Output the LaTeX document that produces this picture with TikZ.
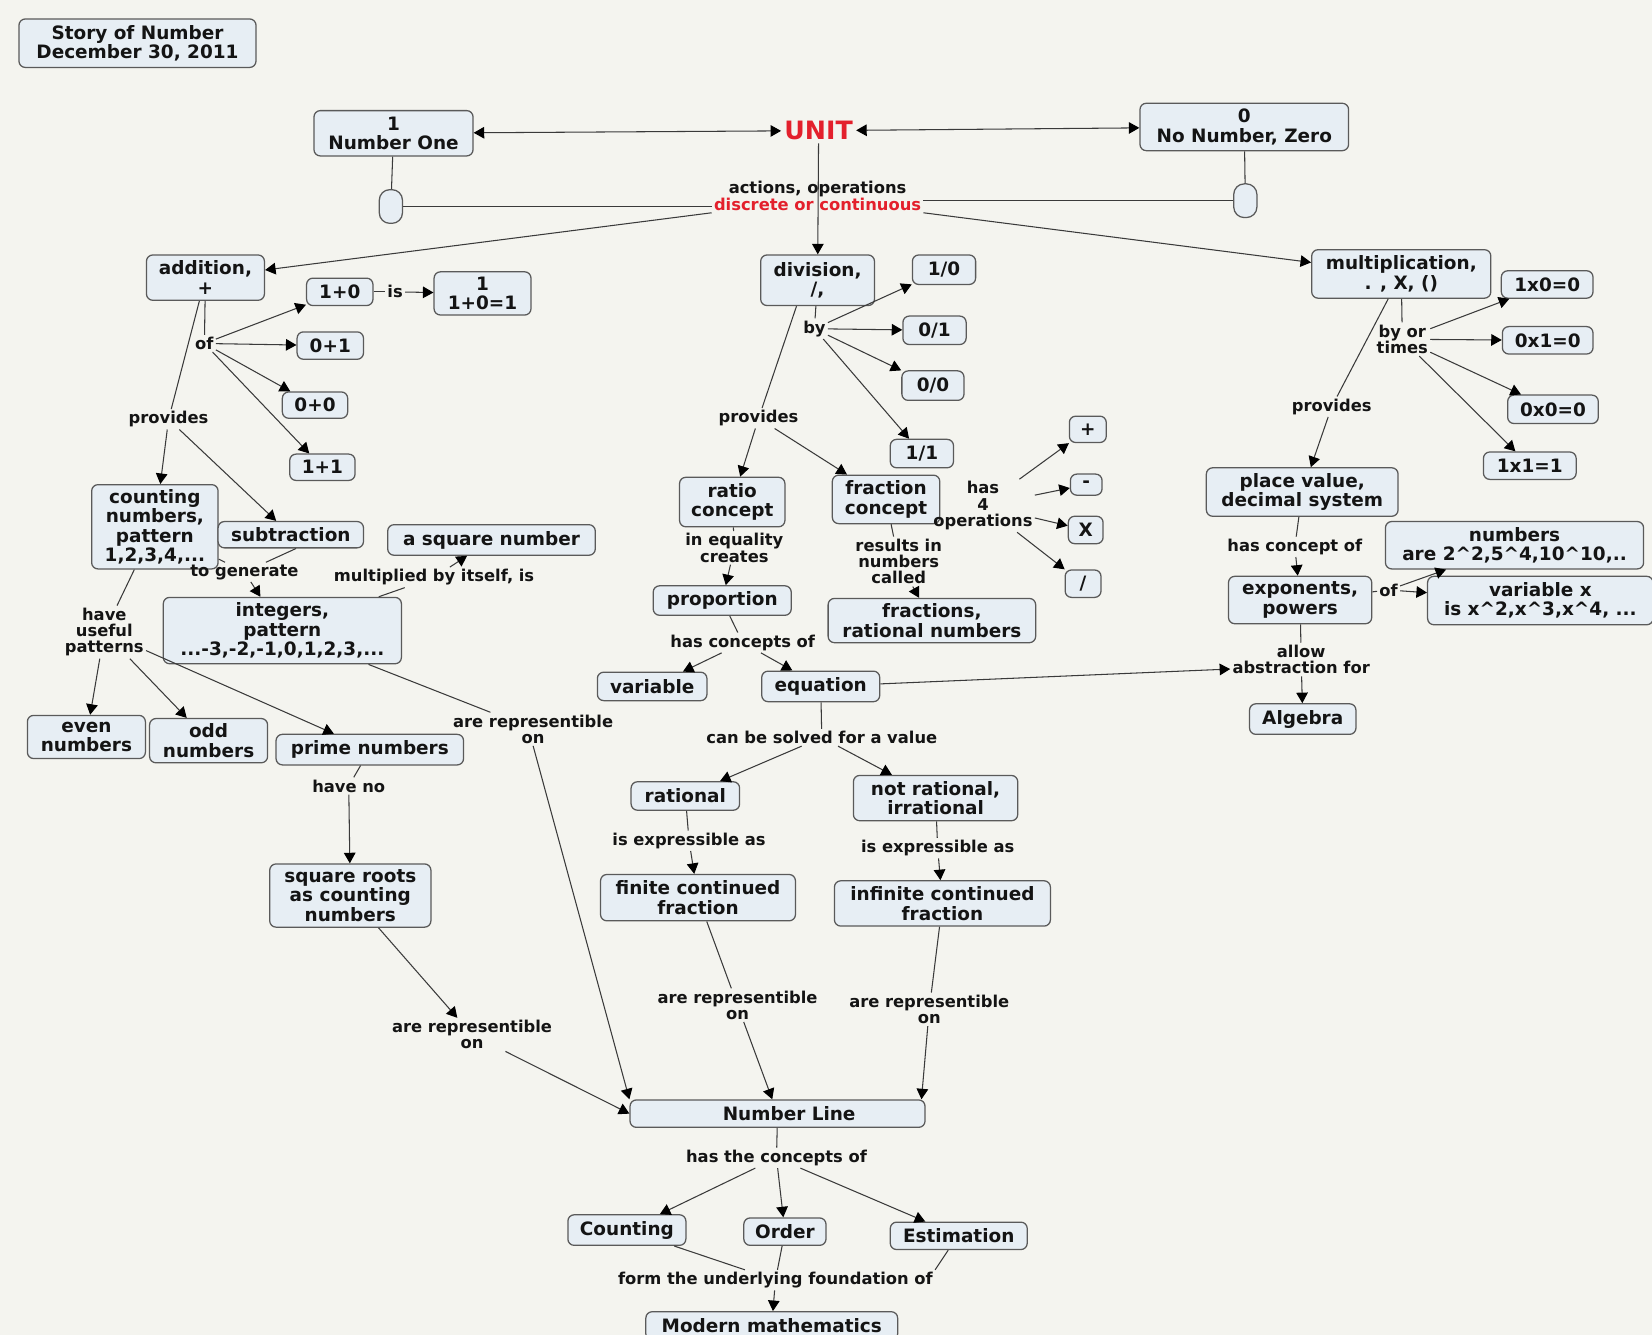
\documentclass[tikz,border=0pt]{standalone}
\usepackage{fontspec}
\setmainfont{DejaVu Sans}
\usetikzlibrary{arrows.meta}
\definecolor{bg}{HTML}{F4F4EF}
\definecolor{boxfill}{HTML}{E7EEF4}
\definecolor{boxline}{HTML}{5A5A5A}
\definecolor{linkc}{HTML}{3A3A3A}
\definecolor{txt}{HTML}{141414}
\definecolor{unitred}{HTML}{E3202C}
\newcommand{\ctext}{\bfseries\fontsize{17.5}{18.5}\selectfont}
\newcommand{\ltext}{\bfseries\fontsize{15.5}{15.5}\selectfont}
\newcommand{\crt}{\textasciicircum}
\tikzset{
  concept/.style={draw=boxline, fill=boxfill, rounded corners=6pt, line width=1.2pt, align=center, inner sep=0pt, font=\ctext, text=txt},
  lbl/.style={align=center, inner sep=2pt, font=\ltext, text=txt},
  link/.style={draw=linkc, line width=1pt},
  tipk/.tip={Triangle[length=10pt,width=11pt,color=black]},
  arr/.style={link, -tipk},
  biarr/.style={link, tipk-tipk},
  pill/.style={draw=boxline, fill=boxfill, rounded corners=10pt, line width=1.2pt, minimum width=22pt, minimum height=32pt, inner sep=0pt},
}
\begin{document}
\begin{tikzpicture}[x=1pt,y=-1pt]
\fill[bg] (0,0) rectangle (1568,1267);
\useasboundingbox (0,0) rectangle (1568,1267);

% ---------- concepts ----------
\node[concept, minimum width=225pt, minimum height=46pt] (title) at (130.5,41) {Story of Number\\December 30, 2011};
\node[concept, minimum width=151pt, minimum height=43pt] (one) at (373.5,126.5) {1\\Number One};
\node[concept, minimum width=198pt, minimum height=45pt] (zero) at (1181,120.5) {0\\No Number, Zero};
\node[font=\bfseries\fontsize{24}{26}\selectfont, text=unitred, inner sep=3pt] (unit) at (777,124) {UNIT};
\node[pill] (pillL) at (371,196) {};
\node[pill] (pillR) at (1182,190.5) {};
\node[lbl] (act) at (776,186) {actions, operations\\{\color{unitred}discrete or continuous}};

\node[concept, minimum width=112pt, minimum height=43pt] (add) at (195,263.5) {addition,\\+};
\node[concept, minimum width=108pt, minimum height=48pt] (div) at (776,266) {division,\\/,};
\node[concept, minimum width=170pt, minimum height=46pt] (mult) at (1330,260) {multiplication,\\. , X, ()};

% addition branch
\node[concept, minimum width=63pt, minimum height=26pt] (p10) at (322.5,277) {1+0};
\node[lbl] (isl) at (375,277) {is};
\node[concept, minimum width=92pt, minimum height=41pt] (r10) at (458,278.5) {1\\1+0=1};
\node[lbl] (of1) at (194,326) {of};
\node[concept, minimum width=63pt, minimum height=26pt] (p01) at (313.5,328) {0+1};
\node[concept, minimum width=62pt, minimum height=25pt] (p00) at (299,384.5) {0+0};
\node[concept, minimum width=62pt, minimum height=25pt] (p11) at (306,443.5) {1+1};
\node[lbl] (prov1) at (160,398) {provides};
\node[concept, minimum width=120pt, minimum height=80pt] (cnt) at (147,500) {counting\\numbers,\\pattern\\1,2,3,4,...};
\node[concept, minimum width=138pt, minimum height=25pt] (sub) at (276,507.5) {subtraction};
\node[lbl] (gen) at (232,543) {to generate};
\node[concept, minimum width=226pt, minimum height=63pt] (int) at (268,598.5) {integers,\\pattern\\...-3,-2,-1,0,1,2,3,...};
\node[lbl] (mbi) at (412,548) {multiplied by itself, is};
\node[concept, minimum width=197pt, minimum height=29pt] (sq) at (466.5,512.5) {a square number};
\node[lbl] (useful) at (99,600) {have\\useful\\patterns};
\node[concept, minimum width=112pt, minimum height=41pt] (even) at (82,699.5) {even\\numbers};
\node[concept, minimum width=112pt, minimum height=42pt] (odd) at (198,703) {odd\\numbers};
\node[concept, minimum width=178pt, minimum height=29pt] (prime) at (351,711.5) {prime numbers};
\node[lbl] (haveno) at (331,746) {have no};
\node[concept, minimum width=153pt, minimum height=60pt] (sqr) at (332.5,850) {square roots\\as counting\\numbers};
\node[lbl] (rep1) at (506,692) {are representible\\on};
\node[lbl] (rep2) at (448,982) {are representible\\on};

% division branch
\node[lbl] (by) at (773,312) {by};
\node[concept, minimum width=60pt, minimum height=28pt] (d10) at (896,256) {1/0};
\node[concept, minimum width=60pt, minimum height=27pt] (d01) at (887,313.5) {0/1};
\node[concept, minimum width=59pt, minimum height=28pt] (d00) at (885.5,366) {0/0};
\node[concept, minimum width=60pt, minimum height=27pt] (d11) at (875,430.5) {1/1};
\node[lbl] (prov2) at (720,397) {provides};
\node[concept, minimum width=100pt, minimum height=47pt] (ratio) at (695,476.5) {ratio\\concept};
\node[concept, minimum width=102pt, minimum height=46pt] (frac) at (841,474) {fraction\\concept};
\node[lbl] (ops) at (933,480) {has\\4\\operations};
\node[concept, minimum width=35pt, minimum height=25pt] (plus) at (1032.5,407.5) {+};
\node[concept, minimum width=30pt, minimum height=20pt] (minus) at (1031,460) {-};
\node[concept, minimum width=33pt, minimum height=26pt] (times) at (1030.5,503) {X};
\node[concept, minimum width=34pt, minimum height=26pt] (slash) at (1028,554) {/};
\node[lbl] (ineq) at (697,520) {in equality\\creates};
\node[concept, minimum width=131pt, minimum height=28pt] (prop) at (685.5,570) {proportion};
\node[lbl] (results) at (853,533) {results in\\numbers\\called};
\node[concept, minimum width=197pt, minimum height=42pt] (fracs) at (884.5,589) {fractions,\\rational numbers};
\node[lbl] (hasc) at (705,610) {has concepts of};
\node[concept, minimum width=104pt, minimum height=27pt] (var) at (619,651.5) {variable};
\node[concept, minimum width=112pt, minimum height=29pt] (eq) at (779,651.5) {equation};
\node[lbl] (solved) at (780,700) {can be solved for a value};
\node[concept, minimum width=103pt, minimum height=27pt] (rat) at (650.5,755.5) {rational};
\node[concept, minimum width=156pt, minimum height=43pt] (irr) at (888,757.5) {not rational,\\irrational};
\node[lbl] (expr1) at (654,798) {is expressible as};
\node[lbl] (expr2) at (890,805) {is expressible as};
\node[concept, minimum width=185pt, minimum height=44pt] (fin) at (662.5,852) {finite continued\\fraction};
\node[concept, minimum width=205pt, minimum height=43pt] (inf) at (894.5,857.5) {infinite continued\\fraction};
\node[lbl] (rep3) at (700,954) {are representible\\on};
\node[lbl] (rep4) at (882,958) {are representible\\on};
\node[concept, minimum width=280pt, minimum height=26pt] (nl) at (738,1057) {\hspace*{22pt}Number Line};
\node[lbl] (hasthe) at (737,1099) {has the concepts of};
\node[concept, minimum width=112pt, minimum height=29pt] (counting) at (595,1167.5) {Counting};
\node[concept, minimum width=78pt, minimum height=26pt] (order) at (745,1169) {Order};
\node[concept, minimum width=130pt, minimum height=26pt] (est) at (910,1173) {Estimation};
\node[lbl] (form) at (736,1215) {form the underlying foundation of};
\node[concept, minimum width=239pt, minimum height=27pt] (modern) at (732.5,1258.5) {Modern mathematics};

% multiplication branch
\node[lbl] (bytimes) at (1331,322) {by or\\times};
\node[concept, minimum width=87pt, minimum height=26pt] (m10) at (1468.5,270) {1x0=0};
\node[concept, minimum width=86pt, minimum height=26pt] (m01) at (1469,323) {0x1=0};
\node[concept, minimum width=86pt, minimum height=27pt] (m00) at (1474,388.5) {0x0=0};
\node[concept, minimum width=88pt, minimum height=26pt] (m11) at (1452,442) {1x1=1};
\node[lbl] (prov3) at (1264,386) {provides};
\node[concept, minimum width=182pt, minimum height=46pt] (pv) at (1236,467) {place value,\\decimal system};
\node[lbl] (hco) at (1229,519) {has concept of};
\node[concept, minimum width=136pt, minimum height=45pt] (exps) at (1234,569.5) {exponents,\\powers};
\node[lbl] (of2) at (1318,560) {of};
\node[concept, minimum width=245pt, minimum height=45pt] (nums) at (1437.5,517.5) {numbers\\are 2\crt2,5\crt4,10\crt10,..};
\node[concept, minimum width=214pt, minimum height=46pt] (varx) at (1462,570) {variable x\\is x\crt2,x\crt3,x\crt4, ...};
\node[lbl] (allow) at (1235,626) {allow\\abstraction for};
\node[concept, minimum width=101pt, minimum height=29pt] (alg) at (1236.5,682.5) {Algebra};

% ---------- connectors ----------
\draw[biarr] (one) -- (unit);
\draw[biarr] (unit) -- (zero);
\draw[link] (one) -- (pillL);
\draw[link] (zero) -- (pillR);
\draw[link] (pillL) -- (act.west |- pillL);
\draw[link] (act.east |- pillR) -- (pillR);
\draw[arr] (unit) -- (div);
\draw[arr] (act.south west) -- (add);
\draw[arr] (act.south east) -- (mult);

\draw[link] (add) -- (of1);
\draw[arr] (of1) -- (p10);
\draw[arr] (of1) -- (p01);
\draw[arr] (of1) -- (p00);
\draw[arr] (of1) -- (p11);
\draw[link] (p10) -- (isl);
\draw[arr] (isl) -- (r10);
\draw[link] (add) -- (prov1);
\draw[arr] (prov1) -- (cnt);
\draw[arr] (prov1) -- (sub);
\draw[link] (cnt) -- (gen);
\draw[link] ([xshift=5pt]sub.south) -- (gen);
\draw[arr] (gen) -- (int);
\draw[link] (int) -- (mbi);
\draw[arr] (mbi) -- (sq);
\draw[link] (cnt) -- (useful);
\draw[arr] (useful) -- (even);
\draw[arr] (useful) -- (odd);
\draw[arr] (useful) -- (prime);
\draw[link] (prime) -- (haveno);
\draw[arr] (haveno) -- (sqr);
\draw[arr] (sqr) -- (rep2);
\draw[arr] (rep2) -- (nl.west);
\draw[link] (int) -- (rep1);
\draw[arr] (rep1.south) -- (nl.north west);

\draw[link] (div) -- (by);
\draw[arr] (by) -- (d10);
\draw[arr] (by) -- (d01);
\draw[arr] (by) -- (d00);
\draw[arr] (by) -- (d11);
\draw[link] ([xshift=-20pt]div.south) -- (prov2);
\draw[arr] (prov2) -- (ratio);
\draw[arr] (prov2) -- (frac);
\draw[arr] (ops) -- (plus);
\draw[arr] (ops) -- (minus);
\draw[arr] (ops) -- (times);
\draw[arr] (ops) -- (slash);
\draw[link] (ratio) -- (ineq);
\draw[arr] (ineq) -- (prop);
\draw[link] (frac) -- (results);
\draw[arr] (results) -- (fracs);
\draw[link] (prop) -- (hasc);
\draw[arr] (hasc) -- (var);
\draw[arr] (hasc) -- (eq);
\draw[arr] (eq) -- ([yshift=-9pt]allow.west);
\draw[link] (eq) -- (solved);
\draw[arr] (solved) -- (rat);
\draw[arr] (solved) -- (irr);
\draw[link] (rat) -- (expr1);
\draw[arr] (expr1) -- (fin);
\draw[link] (irr) -- (expr2);
\draw[arr] (expr2) -- (inf);
\draw[link] (fin) -- (rep3);
\draw[arr] (rep3) -- (nl);
\draw[link] (inf) -- (rep4);
\draw[arr] (rep4) -- ([xshift=-4pt]nl.north east);
\draw[link] (nl) -- (hasthe);
\draw[arr] (hasthe) -- (counting);
\draw[arr] (hasthe) -- (order);
\draw[arr] (hasthe) -- (est);
\draw[link] (counting) -- (form);
\draw[link] (order) -- (form);
\draw[link] ([xshift=-10pt]est.south) -- (form.north east);
\draw[arr] (form) -- (modern);

\draw[link] (mult) -- (bytimes);
\draw[arr] (bytimes) -- (m10);
\draw[arr] (bytimes) -- (m01);
\draw[arr] (bytimes) -- (m00);
\draw[arr] (bytimes) -- (m11);
\draw[link] (mult) -- (prov3);
\draw[arr] (prov3) -- (pv);
\draw[link] (pv) -- (hco);
\draw[arr] (hco) -- (exps);
\draw[link] (exps) -- (of2);
\draw[arr] (of2) -- (nums);
\draw[arr] (of2) -- (varx);
\draw[link] (exps) -- (allow);
\draw[arr] (allow) -- (alg);
\end{tikzpicture}
\end{document}
